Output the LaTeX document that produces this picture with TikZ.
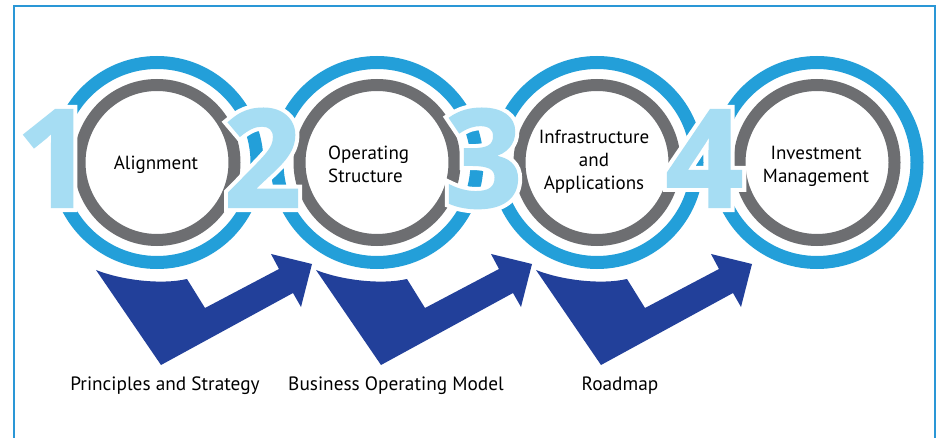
\documentclass[tikz,border=0pt]{standalone}
\usepackage{fontspec}
\setmainfont{PT Sans}
\newfontfamily\digitfont{Open Sans}[FakeBold=1.5]
\newfontfamily\digitoutline{Open Sans}[FakeBold=7.5]
\usetikzlibrary{calc}
\definecolor{ringblue}{HTML}{239FD9}
\definecolor{ringgray}{HTML}{6D6E71}
\definecolor{digitblue}{HTML}{A6DDF3}
\definecolor{arrowblue}{HTML}{22409A}
\definecolor{frameblue}{HTML}{2A97D6}
\tikzset{
 bluering/.style={draw=ringblue, line width=13pt},
 grayring/.style={draw=ringgray, line width=12pt},
 digitstyle/.style={font=\digitfont\bfseries\fontsize{136}{136}\selectfont, inner sep=0pt, anchor=base},
 digithalo/.style={font=\digitoutline\bfseries\fontsize{136}{136}\selectfont, inner sep=0pt, anchor=base, text=white},
 intext/.style={font=\fontsize{19}{23}\selectfont, align=center, inner sep=0pt},
 lbl/.style={font=\fontsize{19.3}{23}\selectfont, inner sep=0pt, anchor=base},
 bentarrow/.style={fill=arrowblue},
}
\begin{document}
\begin{tikzpicture}[x=1pt,y=-1pt]
\useasboundingbox (0,0) rectangle (942,438);
\fill[white] (0,0) rectangle (942,438);
\draw[frameblue, line width=2pt] (14,6) rectangle (935,460);
% circle centres
\coordinate (c1) at (157,162.5);
\coordinate (c2) at (377,162.5);
\coordinate (c3) at (597,162.5);
\coordinate (c4) at (817,162.5);
% rings
\foreach \c in {c1,c2,c3,c4}{
  \draw[bluering] (\c) circle[radius=100pt];
  \draw[grayring] (\c) circle[radius=77.5pt];
}
% bent arrows
\foreach \cx in {157,377,597}{
  \fill[bentarrow] ({\cx-61},270) .. controls ({\cx-36},280) and ({\cx+4},285) .. ({\cx+30},279)
    -- ({\cx+48},308) -- ({\cx+122},269) -- ({\cx+114},254) -- ({\cx+155},264)
    -- ({\cx+144},307) -- ({\cx+136},293) -- ({\cx+4},365) -- cycle;
}
% digits with white outline
\coordinate (d1) at (55,207);
\coordinate (d2) at (262.5,207);
\coordinate (d3) at (483.5,207);
\coordinate (d4) at (704.5,207);
\foreach \d/\n in {d1/1,d2/2,d3/3,d4/4}{
  \node[digithalo] (h\n) at (\d) {\n};
  \node[digitstyle,text=digitblue] (n\n) at (\d) {\n};
}
% circle texts
\node[intext] (t1) at (156,165) {Alignment};
\node[intext, align=left, anchor=west] (t2) at (328,164) {Operating\\Structure};
\node[intext] (t3) at (594,162) {Infrastructure\\and\\Applications};
\node[intext] (t4) at (816,166) {Investment\\Management};
% labels
\node[lbl] (l1) at (165,390) {Principles and Strategy};
\node[lbl] (l2) at (396,390) {Business Operating Model};
\node[lbl] (l3) at (620,390) {Roadmap};
\end{tikzpicture}
\end{document}
